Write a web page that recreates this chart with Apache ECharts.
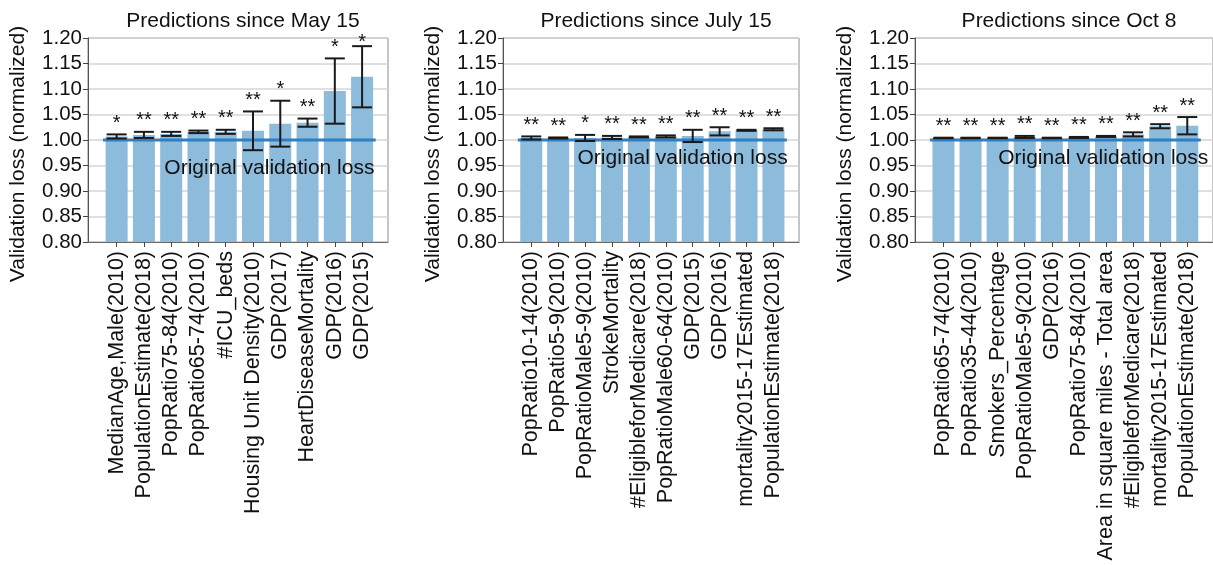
<!DOCTYPE html>
<html>
<head>
<meta charset="utf-8">
<script src="https://cdn.jsdelivr.net/npm/echarts@6/dist/echarts.min.js"></script>
<style>
  html, body { margin: 0; padding: 0; background: #fff; }
  #chart { width: 1213px; height: 565px; }
</style>
</head>
<body>
<div id="chart"></div>
<script>
// Feature-ablation results: validation loss after removing each feature, normalized
const panelTitles = ['Predictions since May 15', 'Predictions since July 15', 'Predictions since Oct 8'];
const yAxisTitle = 'Validation loss (normalized)';
const refLabel = 'Original validation loss';
const refValue = 1.0;

const yMin = 0.80;
const yMax = 1.20;
const yStep = 0.05;

// Panel 1: since May 15
const catsMay = ['MedianAge,Male(2010)', 'PopulationEstimate(2018)', 'PopRatio75-84(2010)', 'PopRatio65-74(2010)',
  '#ICU_beds', 'Housing Unit Density(2010)', 'GDP(2017)', 'HeartDiseaseMortality', 'GDP(2016)', 'GDP(2015)'];
const valsMay = [1.007, 1.010, 1.012, 1.016, 1.016, 1.018, 1.032, 1.034, 1.096, 1.124];
const errMay = [0.004, 0.006, 0.004, 0.0025, 0.004, 0.038, 0.045, 0.008, 0.064, 0.060];
const starsMay = ['*', '**', '**', '**', '**', '**', '*', '**', '*', '*'];

// Panel 2: since July 15
const catsJul = ['PopRatio10-14(2010)', 'PopRatio5-9(2010)', 'PopRatioMale5-9(2010)', 'StrokeMortality',
  '#EligibleforMedicare(2018)', 'PopRatioMale60-64(2010)', 'GDP(2015)', 'GDP(2016)',
  'mortality2015-17Estimated', 'PopulationEstimate(2018)'];
const valsJul = [1.004, 1.004, 1.004, 1.005, 1.006, 1.007, 1.008, 1.017, 1.019, 1.021];
const errJul = [0.003, 0.001, 0.006, 0.003, 0.001, 0.002, 0.012, 0.008, 0.001, 0.002];
const starsJul = ['**', '**', '*', '**', '**', '**', '**', '**', '**', '**'];

// Panel 3: since Oct 8
const catsOct = ['PopRatio65-74(2010)', 'PopRatio35-44(2010)', 'Smokers_Percentage', 'PopRatioMale5-9(2010)',
  'GDP(2016)', 'PopRatio75-84(2010)', 'Area in square miles - Total area', '#EligibleforMedicare(2018)',
  'mortality2015-17Estimated', 'PopulationEstimate(2018)'];
const valsOct = [1.004, 1.004, 1.004, 1.006, 1.004, 1.005, 1.007, 1.011, 1.027, 1.028];
const errOct = [0.0005, 0.0005, 0.0005, 0.002, 0.0005, 0.001, 0.001, 0.004, 0.004, 0.017];
const starsOct = ['**', '**', '**', '**', '**', '**', '**', '**', '**', '**'];

const panels = [
  { cats: catsMay, vals: valsMay, errs: errMay, stars: starsMay },
  { cats: catsJul, vals: valsJul, errs: errJul, stars: starsJul },
  { cats: catsOct, vals: valsOct, errs: errOct, stars: starsOct }
];

const FONT = 'Liberation Sans, Arial, Helvetica, sans-serif';
const BAR_COLOR = '#8dbbdc';
const REF_COLOR = '#2f7fc1';
const ERR_COLOR = '#1a1a1a';

// layout of the three plot boxes
const gridLeft = [88, 503, 915];
const gridWidth = [300, 296, 298];
const gridTop = 38;
const gridHeight = 204;
const labelPos = [[1.75, 0.945], [1.72, 0.965], [2.02, 0.965]];

const grids = [], xAxes = [], yAxes = [], series = [], titles = [], graphics = [];

panels.forEach((p, i) => {
  const n = p.cats.length;
  const idx = p.cats.map((_, k) => k);
  grids.push({
    left: gridLeft[i], top: gridTop, width: gridWidth[i], height: gridHeight,
    containLabel: false, outerBoundsMode: 'none',
    show: true, borderColor: '#8a8a8a', borderWidth: 1, backgroundColor: 'transparent'
  });
  titles.push({
    text: panelTitles[i],
    left: gridLeft[i] + gridWidth[i] / 2, top: 6, textAlign: 'center',
    textStyle: { fontFamily: FONT, fontSize: 21, fontWeight: 'normal', color: '#111' }
  });
  xAxes.push({
    gridIndex: i, type: 'value', min: -1.05, max: n - 0.05,
    splitLine: { show: false },
    axisLine: { show: true, onZero: false, lineStyle: { color: '#6a6a6a', width: 1 } },
    axisTick: { show: true, customValues: idx, length: 5, lineStyle: { color: '#444' } },
    axisLabel: {
      customValues: idx, rotate: 90, margin: 9,
      align: 'right', verticalAlign: 'middle',
      formatter: v => p.cats[Math.round(v)] || '',
      fontFamily: FONT, fontSize: 21.5, color: '#111'
    }
  });
  yAxes.push({
    gridIndex: i, type: 'value', min: yMin, max: yMax, interval: yStep,
    axisLine: { show: true, onZero: false, lineStyle: { color: '#555', width: 1 } },
    axisTick: { show: true, length: 5, lineStyle: { color: '#444' } },
    axisLabel: {
      formatter: v => v.toFixed(2), margin: 6,
      fontFamily: FONT, fontSize: 20.5, color: '#111'
    },
    splitLine: { show: true, lineStyle: { color: '#d6d6d6', width: 1.5 } }
  });

  // bars
  series.push({
    type: 'bar', xAxisIndex: i, yAxisIndex: i,
    data: p.vals.map((v, k) => [k, v]),
    barWidth: 22,
    itemStyle: { color: BAR_COLOR },
    silent: true, z: 2
  });

  // reference line at the original validation loss
  series.push({
    type: 'line', xAxisIndex: i, yAxisIndex: i,
    data: [[-0.5, refValue], [n - 0.5, refValue]],
    symbol: 'none', silent: true, z: 3,
    lineStyle: { color: REF_COLOR, width: 3 },
    markPoint: {
      silent: true,
      symbolSize: 0,
      data: [{ coord: labelPos[i] }],
      label: {
        show: true, position: 'right', distance: 0,
        formatter: refLabel,
        fontFamily: FONT, fontSize: 21, color: '#111'
      }
    }
  });

  // error bars with significance stars (stars kept inside the plot box)
  series.push({
    type: 'custom', xAxisIndex: i, yAxisIndex: i,
    data: p.vals.map((v, k) => [k, v - p.errs[k], v + p.errs[k]]),
    silent: true, z: 4,
    renderItem: (params, api) => {
      const k = api.value(0);
      const lo = api.coord([k, api.value(1)]);
      const hi = api.coord([k, api.value(2)]);
      const top = api.coord([k, yMax])[1];
      const hw = 10;
      const st = { stroke: ERR_COLOR, lineWidth: 2 };
      return {
        type: 'group',
        children: [
          { type: 'line', shape: { x1: lo[0], y1: lo[1], x2: hi[0], y2: hi[1] }, style: st },
          { type: 'line', shape: { x1: lo[0] - hw, y1: lo[1], x2: lo[0] + hw, y2: lo[1] }, style: st },
          { type: 'line', shape: { x1: hi[0] - hw, y1: hi[1], x2: hi[0] + hw, y2: hi[1] }, style: st },
          {
            type: 'text',
            style: {
              x: hi[0], y: Math.max(hi[1] - 1, top + 14), text: p.stars[params.dataIndex],
              align: 'center', verticalAlign: 'bottom',
              fontFamily: FONT, fontSize: 20, fill: '#111'
            }
          }
        ]
      };
    }
  });

  graphics.push({
    type: 'text', rotation: Math.PI / 2,
    x: gridLeft[i] - 70, y: 154,
    style: {
      text: yAxisTitle, align: 'center', verticalAlign: 'middle',
      fontFamily: FONT, fontSize: 21, fill: '#111'
    }
  });
});

const chart = echarts.init(document.getElementById('chart'), null, { renderer: 'canvas' });
chart.setOption({
  animation: false,
  backgroundColor: '#ffffff',
  title: titles,
  grid: grids,
  xAxis: xAxes,
  yAxis: yAxes,
  series: series,
  graphic: graphics
});
</script>
</body>
</html>
